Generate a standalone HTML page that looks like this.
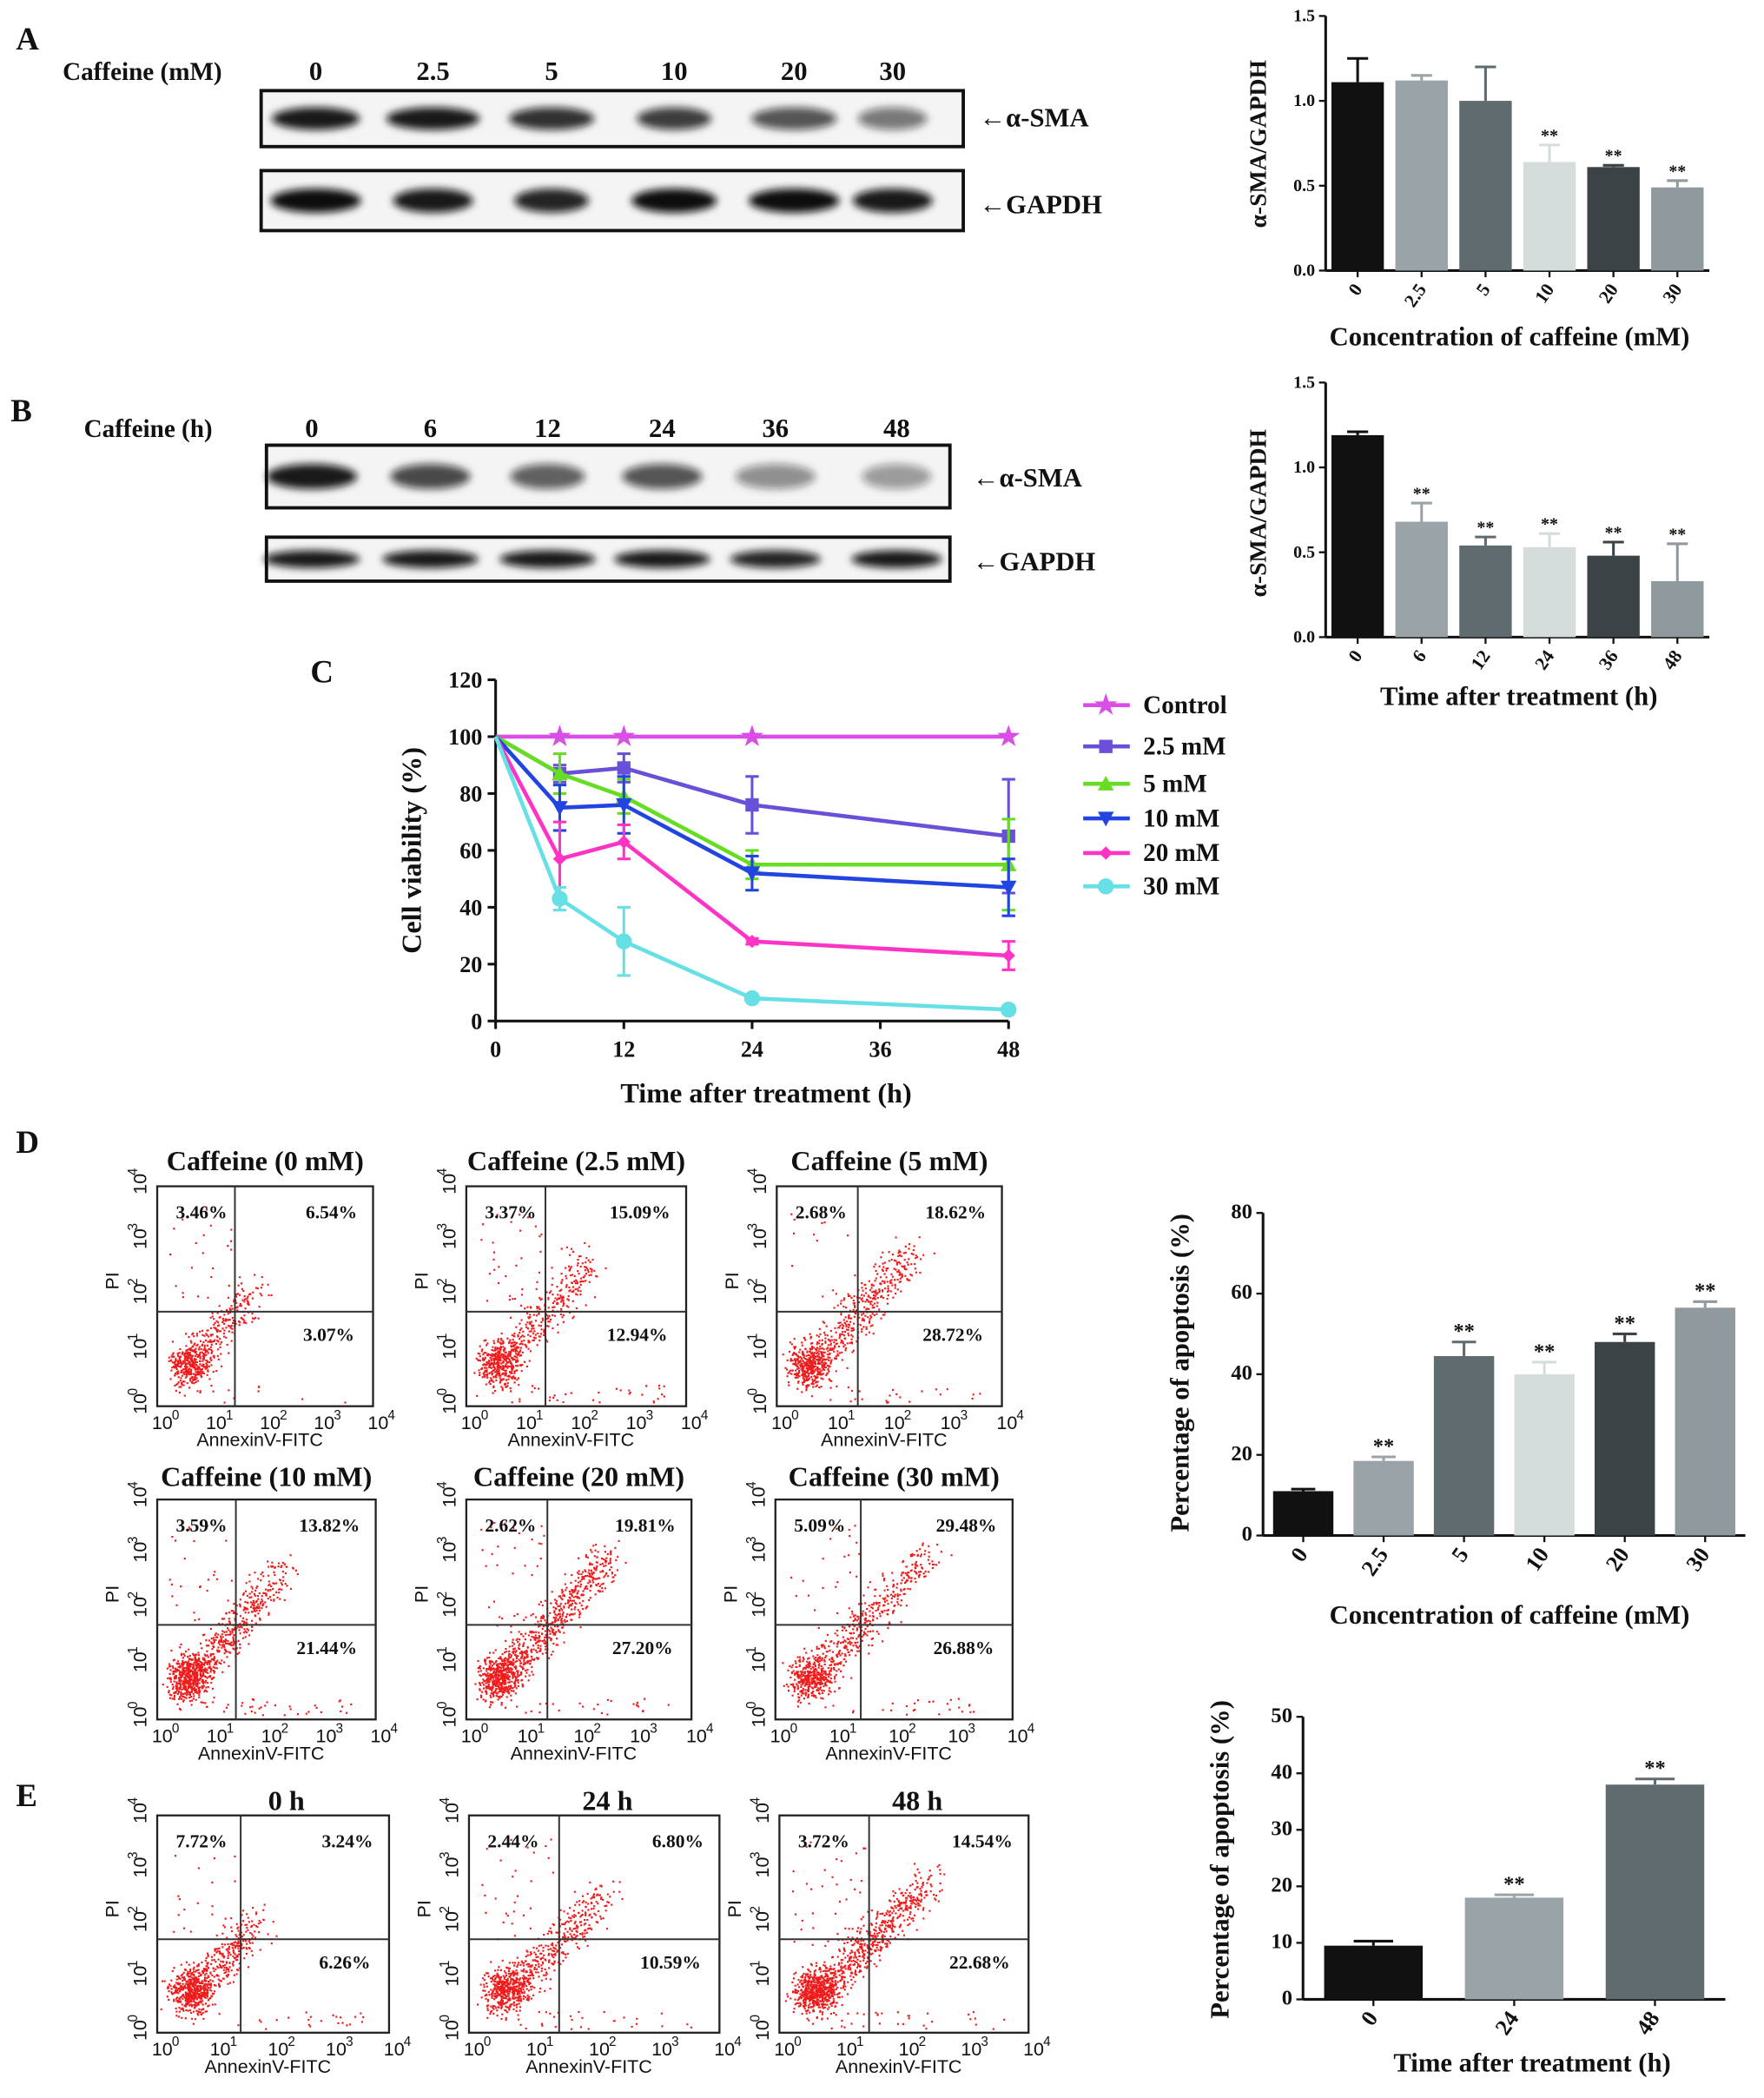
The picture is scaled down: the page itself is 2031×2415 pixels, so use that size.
<!DOCTYPE html>
<html><head><meta charset="utf-8"><style>
html,body{margin:0;padding:0;background:#fff}
svg{display:block}
text{font-family:"Liberation Serif",serif;font-weight:bold;fill:#111}
.s{font-family:"Liberation Sans",sans-serif;font-weight:normal}
</style></head><body>
<svg id="fig" xmlns="http://www.w3.org/2000/svg" width="2031" height="2415" viewBox="0 0 1324 1574" preserveAspectRatio="none">
<defs><filter id="blur" x="-50%" y="-50%" width="200%" height="200%"><feGaussianBlur stdDeviation="3"/></filter></defs>
</svg>
<script>
// ---- data ----
const concLabels=["0","2.5","5","10","20","30"];
const timeLabels=["0","6","12","24","36","48"];
const aSmaConc=[1.11,1.12,1.0,0.64,0.61,0.49];
const aSmaConcErr=[0.14,0.03,0.2,0.1,0.01,0.04];
const aSmaConcSig=["","","","**","**","**"];
const aSmaTime=[1.19,0.68,0.54,0.53,0.48,0.33];
const aSmaTimeErr=[0.02,0.11,0.05,0.08,0.08,0.22];
const aSmaTimeSig=["","**","**","**","**","**"];
const viabHours=[0,6,12,24,48];
const viabNames=["Control","2.5 mM","5 mM","10 mM","20 mM","30 mM"];
const viabCtrl=[100,100,100,100,100];
const viab25=[100,87,89,76,65];
const viab5=[100,87,79,55,55];
const viab10=[100,75,76,52,47];
const viab20=[100,57,63,28,23];
const viab30=[100,43,28,8,4];
const viabErr25=[0,3,5,10,20];
const viabErr5=[0,7,6,5,16];
const viabErr10=[0,8,10,6,10];
const viabErr20=[0,13,6,1,5];
const viabErr30=[0,4,12,1,1];
const apoConc=[11,18.5,44.5,40,48,56.5];
const apoConcErr=[0.5,1,3.5,3,2,1.5];
const apoConcSig=["","**","**","**","**","**"];
const apoTimeLabels=["0","24","48"];
const apoTime=[9.5,18,38];
const apoTimeErr=[0.8,0.5,1];
const apoTimeSig=["","**","**"];
const flowTitles=["Caffeine (0 mM)","Caffeine (2.5 mM)","Caffeine (5 mM)","Caffeine (10 mM)","Caffeine (20 mM)","Caffeine (30 mM)","0 h","24 h","48 h"];
const flowUL=["3.46%","3.37%","2.68%","3.59%","2.62%","5.09%","7.72%","2.44%","3.72%"];
const flowUR=["6.54%","15.09%","18.62%","13.82%","19.81%","29.48%","3.24%","6.80%","14.54%"];
const flowLR=["3.07%","12.94%","28.72%","21.44%","27.20%","26.88%","6.26%","10.59%","22.68%"];

const svg=document.getElementById('fig');const NS="http://www.w3.org/2000/svg";
function el(t,a,p){const e=document.createElementNS(NS,t);for(const k in a)e.setAttribute(k,a[k]);(p||svg).appendChild(e);return e;}
function tx(x,y,s,size,name,extra){const e=el('text',Object.assign({x:x,y:y,'font-size':size},extra||{}));e.textContent=s;


return e;}
const barCols=["#111111","#9aa3a8","#5f6b6e","#d4dcdc","#3b4346","#8f999e"];

function barChart(o){
 const g=el('g',{});
 
 
 const y=v=>o.y0-(v/o.max)*(o.y0-o.y1);
 el('line',{x1:o.ax,y1:o.y1,x2:o.ax,y2:o.y0,stroke:'#111','stroke-width':2},g);
 el('line',{x1:o.ax,y1:o.y0,x2:o.x2,y2:o.y0,stroke:'#111','stroke-width':2},g);
 o.ticks.forEach(t=>{el('line',{x1:o.ax-5,y1:y(t),x2:o.ax,y2:y(t),stroke:'#111','stroke-width':1.5},g);
  g.appendChild(tx(o.ax-8,y(t)+4,o.tfmt(t),o.tfs,'y-tick-label',{'text-anchor':'end'}));});
 const n=o.vals.length,step=(o.x2-o.ax)/n;
 o.vals.forEach((v,i)=>{const cx=o.ax+step*(i+0.5),w=step*o.bw;
  const r=el('rect',{x:cx-w/2,y:y(v),width:w,height:o.y0-y(v),fill:barCols[i]},g);
  
  
  const ye=y(v+o.err[i]);const c=barCols[i];
  el('line',{x1:cx,y1:y(v),x2:cx,y2:ye,stroke:c,'stroke-width':2},g);
  el('line',{x1:cx-w*0.2,y1:ye,x2:cx+w*0.2,y2:ye,stroke:c,'stroke-width':2},g);
  if(o.sig[i])g.appendChild(tx(cx,ye-3,o.sig[i],o.tfs,'significance-mark',{'text-anchor':'middle'}));
  el('line',{x1:cx,y1:o.y0,x2:cx,y2:o.y0+5,stroke:'#111','stroke-width':1.5},g);
  g.appendChild(tx(cx+4,o.y0+14,o.labels[i],o.tfs+1,'x-tick-label',{'text-anchor':'end',transform:`rotate(-55 ${cx+4} ${o.y0+14})`}));
 });
 g.appendChild(tx(o.xtx,o.xty,o.xtitle,20,'x-axis-title',{'text-anchor':'middle'}));
 g.appendChild(tx(o.ytx,o.yty,o.ytitle,o.ytfs||18,'y-axis-title',{'text-anchor':'middle',transform:`rotate(-90 ${o.ytx} ${o.yty})`}));
}

// ---- Panel A ----
tx(12,37,'A',24,'panel-label-a');
tx(47,60,'Caffeine (mM)',19,'blot-a-caption');
const aLaneX=[237,325,414,506,596,670];
concLabels.forEach((l,i)=>tx(aLaneX[i],60,l,20,'lane-label',{'text-anchor':'middle'}));
function blot(x,y,w,h,lanes,widths,darks,name){const g=el('g',{});
 
 
 el('rect',{x:x,y:y,width:w,height:h,fill:'#f4f4f4',stroke:'#111','stroke-width':2.5},g);
 lanes.forEach((lx,i)=>{el('ellipse',{cx:lx,cy:y+h/2,rx:widths[i],ry:h*0.2,fill:'#111','fill-opacity':darks[i],filter:'url(#blur)'},g);});}
blot(196,68,527,42,aLaneX,[33,35,32,28,32,26],[0.95,0.95,0.85,0.8,0.7,0.55],'blot-a-sma');
blot(196,128,527,45,aLaneX,[34,30,28,32,34,30],[1,0.95,0.9,1,1,0.95],'blot-a-gapdh');
tx(735,95,'←α-SMA',20,'band-label');
tx(735,160,'←GAPDH',20,'band-label');
barChart({name:'chart-a-bars',ax:995,x2:1283,y0:203,y1:12,max:1.5,ticks:[0,0.5,1,1.5],tfmt:t=>t.toFixed(1),tfs:13,vals:aSmaConc,err:aSmaConcErr,sig:aSmaConcSig,labels:concLabels,bw:0.82,xtitle:'Concentration of caffeine (mM)',xtx:1133,xty:259,ytitle:'α-SMA/GAPDH',ytx:950,yty:108});

// ---- Panel B ----
tx(8,316,'B',24,'panel-label-b');
tx(63,328,'Caffeine (h)',19,'blot-b-caption');
const bLaneX=[234,323,411,497,582,673];
timeLabels.forEach((l,i)=>tx(bLaneX[i],328,l,20,'lane-label',{'text-anchor':'middle'}));
blot(200,334,513,47,bLaneX,[34,30,28,30,30,26],[0.95,0.75,0.65,0.7,0.45,0.4],'blot-b-sma');
blot(200,403,513,33,bLaneX,[36,36,36,36,34,34],[0.95,0.95,0.95,0.95,0.9,0.95],'blot-b-gapdh');
tx(730,365,'←α-SMA',20,'band-label');
tx(730,428,'←GAPDH',20,'band-label');
barChart({name:'chart-b-bars',ax:995,x2:1283,y0:478,y1:287,max:1.5,ticks:[0,0.5,1,1.5],tfmt:t=>t.toFixed(1),tfs:13,vals:aSmaTime,err:aSmaTimeErr,sig:aSmaTimeSig,labels:timeLabels,bw:0.82,xtitle:'Time after treatment (h)',xtx:1140,xty:529,ytitle:'α-SMA/GAPDH',ytx:950,yty:385});

// ---- Panel C ----
tx(233,512,'C',24,'panel-label-c');
(function(){const g=el('g',{});
 
 
 const X=h=>372+h/48*(757-372),Y=v=>766-v/120*(766-510);
 el('line',{x1:372,y1:510,x2:372,y2:766,stroke:'#111','stroke-width':2},g);
 el('line',{x1:372,y1:766,x2:757,y2:766,stroke:'#111','stroke-width':2},g);
 [0,20,40,60,80,100,120].forEach(t=>{el('line',{x1:366,y1:Y(t),x2:372,y2:Y(t),stroke:'#111','stroke-width':2},g);g.appendChild(tx(362,Y(t)+6,String(t),17,'y-tick-label',{'text-anchor':'end'}));});
 [0,12,24,36,48].forEach(t=>{el('line',{x1:X(t),y1:766,x2:X(t),y2:772,stroke:'#111','stroke-width':2},g);g.appendChild(tx(X(t),793,String(t),17,'x-tick-label',{'text-anchor':'middle'}));});
 g.appendChild(tx(575,827,'Time after treatment (h)',21,'x-axis-title',{'text-anchor':'middle'}));
 g.appendChild(tx(316,638,'Cell viability (%)',21,'y-axis-title',{'text-anchor':'middle',transform:'rotate(-90 316 638)'}));
 const series=[viabCtrl,viab25,viab5,viab10,viab20,viab30];
 const errs=[[0,0,0,0,0],viabErr25,viabErr5,viabErr10,viabErr20,viabErr30];
 const cols=["#d94fe6","#6a4fd8","#66dd22","#2244e0","#ff33c4","#66e0e4"];
 const mk=["star","sq","tri","itri","dia","circ"];
 function marker(k,x,y,c,p){if(k=='sq')el('rect',{x:x-5,y:y-5,width:10,height:10,fill:c},p);
  else if(k=='circ')el('circle',{cx:x,cy:y,r:6,fill:c},p);
  else if(k=='tri')el('polygon',{points:`${x},${y-6} ${x-6},${y+5} ${x+6},${y+5}`,fill:c},p);
  else if(k=='itri')el('polygon',{points:`${x},${y+6} ${x-6},${y-5} ${x+6},${y-5}`,fill:c},p);
  else if(k=='dia')el('polygon',{points:`${x},${y-5} ${x+5},${y} ${x},${y+5} ${x-5},${y}`,fill:c},p);
  else {let pts=[];for(let i=0;i<10;i++){const r=i%2?3.5:9,a=-Math.PI/2+i*Math.PI/5;pts.push((x+r*Math.cos(a)).toFixed(1)+','+(y+r*Math.sin(a)).toFixed(1));}el('polygon',{points:pts.join(' '),fill:c},p);}}
 const legY=[529,560,588,614,640,665];
 series.forEach((s,si)=>{const sg=el('g',{},g);
  
  
  el('polyline',{points:s.map((v,i)=>X(viabHours[i])+','+Y(v)).join(' '),fill:'none',stroke:cols[si],'stroke-width':3},sg);
  s.forEach((v,i)=>{const e=errs[si][i];if(e>0){const x=X(viabHours[i]);
    el('line',{x1:x,y1:Y(v-e),x2:x,y2:Y(v+e),stroke:cols[si],'stroke-width':2},sg);
    el('line',{x1:x-5,y1:Y(v+e),x2:x+5,y2:Y(v+e),stroke:cols[si],'stroke-width':2},sg);
    el('line',{x1:x-5,y1:Y(v-e),x2:x+5,y2:Y(v-e),stroke:cols[si],'stroke-width':2},sg);}
   if(i>0)marker(mk[si],X(viabHours[i]),Y(v),cols[si],sg);});
  const lg=el('g',{},g);
  
  
  el('line',{x1:813,y1:legY[si],x2:848,y2:legY[si],stroke:cols[si],'stroke-width':3},lg);
  marker(mk[si],830,legY[si],cols[si],lg);
  lg.appendChild(tx(858,legY[si]+6,viabNames[si],19,'legend-label'));
 });
})();

// ---- Flow plots ----
tx(12,865,'D',24,'panel-label-d');
tx(12,1355,'E',24,'panel-label-e');
const flowBoxes=[[118,890,162,165],[350,890,165,165],[583,890,169,165],[118,1125,164,165],[350,1125,169,165],[582,1125,178,165],[118,1362,174,163],[352,1362,188,163],[585,1362,187,163]];
const flowTitleY=[878,878,878,1115,1115,1115,1358,1358,1358];
const flowDensity=[600,750,850,1000,1100,800,800,850,1200];
const flowSpread=[0.25,0.5,0.6,0.55,0.65,0.7,0.2,0.45,0.6];
let seed=12345;function rnd(){seed=(seed*16807)%2147483647;return seed/2147483647;}
function gauss(){return (rnd()+rnd()+rnd()+rnd()-2)/1.2;}
flowBoxes.forEach((b,k)=>{const [x,y,w,h]=b;const g=el('g',{});
 
 
 g.appendChild(tx(x+w/2+(k<6?0:10),flowTitleY[k],flowTitles[k],21,'flow-plot-title',{'text-anchor':'middle'}));
 el('rect',{x:x,y:y,width:w,height:h,fill:'none',stroke:'#222','stroke-width':1.5},g);
 const qx=x+w*0.36,qy=y+h*0.57;
 let dots='';const n=flowDensity[k];const sp=flowSpread[k];
 for(let i=0;i<n;i++){let px,py;const r=rnd();
  if(r<0.5-sp*0.3){px=x+w*(0.14+0.09*gauss());py=y+h*(0.8+0.1*gauss());}
  else if(r<0.94){const t=Math.pow(rnd(),1.3)*(0.4+sp*0.8);px=x+w*(0.12+0.55*t+0.08*gauss());py=y+h*(0.86-0.65*t+0.09*gauss());}
  else if(r<0.97){px=x+w*(0.2+0.7*rnd());py=y+h*(0.9+0.08*rnd());}
  else {px=x+w*(0.05+0.3*rnd());py=y+h*(0.1+0.5*rnd());}
  px=Math.max(x+2,Math.min(x+w-2,px));py=Math.max(y+2,Math.min(y+h-2,py));
  dots+=`M${px.toFixed(1)} ${py.toFixed(1)}h1.4v1.4h-1.4z`;}
 el('path',{d:dots,fill:'#ee1c1c'},g);
 el('line',{x1:qx,y1:y,x2:qx,y2:y+h,stroke:'#333','stroke-width':1.3},g);
 el('line',{x1:x,y1:qy,x2:x+w,y2:qy,stroke:'#333','stroke-width':1.3},g);
 g.appendChild(tx(x+14,y+24,flowUL[k],14,'quadrant-ul',{'font-weight':'normal'}));
 g.appendChild(tx(x+w-12,y+24,flowUR[k],14,'quadrant-ur',{'text-anchor':'end','font-weight':'normal'}));
 g.appendChild(tx(x+w-14,qy+22,flowLR[k],14,'quadrant-lr',{'text-anchor':'end','font-weight':'normal'}));
 for(let i=0;i<5;i++){const tx0=x+i*w/4,ty0=y+h-i*h/4;
  g.appendChild(tx(tx0-4,y+h+17,'10',14,'x-tick-label',{'class':'s'}));
  g.appendChild(tx(tx0+11,y+h+10,String(i),10,'x-tick-exp',{'class':'s'}));
  g.appendChild(tx(x-8,ty0+6,'10',14,'y-tick-label',{'class':'s',transform:`rotate(-90 ${x-8} ${ty0+6})`}));
  g.appendChild(tx(x-15,ty0-8,String(i),10,'y-tick-exp',{'class':'s',transform:`rotate(-90 ${x-15} ${ty0-8})`}));}
 g.appendChild(tx(x+w/2-4,y+h+30,'AnnexinV-FITC',14,'x-axis-title',{'text-anchor':'middle','class':'s'}));
 g.appendChild(tx(x-29,y+h*0.43,'PI',14,'y-axis-title',{'text-anchor':'middle','class':'s',transform:`rotate(-90 ${x-29} ${y+h*0.43})`}));
});

// ---- D & E bars ----
barChart({name:'chart-d-bars',ax:948,x2:1310,y0:1152,y1:910,max:80,ticks:[0,20,40,60,80],tfmt:t=>String(t),tfs:16,vals:apoConc,err:apoConcErr,sig:apoConcSig,labels:concLabels,bw:0.75,xtitle:'Concentration of caffeine (mM)',xtx:1133,xty:1218,ytitle:'Percentage of apoptosis (%)',ytx:892,yty:1030,ytfs:20});
barChart({name:'chart-e-bars',ax:978,x2:1295,y0:1500,y1:1288,max:50,ticks:[0,10,20,30,40,50],tfmt:t=>String(t),tfs:16,vals:apoTime,err:apoTimeErr,sig:apoTimeSig,labels:apoTimeLabels,bw:0.7,xtitle:'Time after treatment (h)',xtx:1150,xty:1554,ytitle:'Percentage of apoptosis (%)',ytx:922,yty:1395,ytfs:20});
</script>
</body></html>
